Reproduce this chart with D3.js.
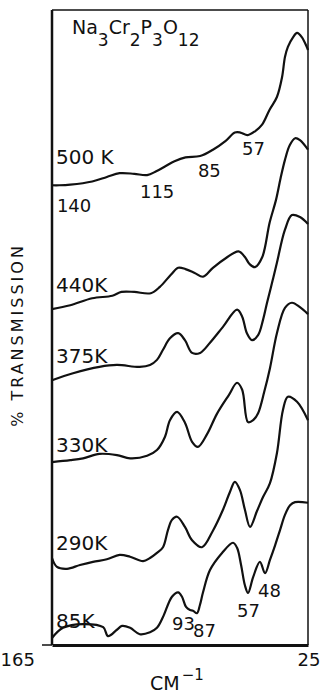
<!DOCTYPE html>
<meta charset="utf-8">
<head>
<style>
  body { margin: 0; background: #fff; }
  svg text { font-family: "DejaVu Sans", sans-serif; fill: #111; }
</style>
</head>
<body>
<script src="https://cdn.jsdelivr.net/npm/d3@7"></script>
<script>
// spectra: [wavenumber cm-1, transmission (arbitrary, stacked)]
var t500 = [[165,72.4],[161,72.4],[155,72.5],[143,73.0],[135,73.7],[128,74.3],[120,74.2],[113,74.0],[108,74.6],[103,75.4],
  [98,76.2],[92,76.8],[84,77.0],[77,78.0],[70,79.4],[65,80.7],[62,80.7],[58,80.3],[54,80.9],[50,82.0],[46,84.3],[42,86.3],
  [39.2,89.4],[37.6,92.6],[36,94.2],[33.2,95.7],[31,96.4],[28.3,95.7],[25,93.7]];
var t440 = [[165,52.9],[155,53.5],[143,54.6],[132,55.0],[127,55.6],[120,55.6],[111,55.4],[106,56.4],[100,58.3],[96,59.4],
  [92,59.2],[87,58.6],[82.4,58.0],[77,59.4],[70,60.9],[63,62.0],[59.5,61.1],[57,60.0],[54,59.5],[50,61.1],[46,66.5],
  [42.5,70.1],[40,73.5],[37.6,76.4],[35,78.7],[32,79.8],[29.4,79.5],[25,78.0]];
var t375 = [[165,41.7],[153.5,42.8],[139,43.8],[129.5,44.1],[117,43.8],[111.4,44.1],[107.6,44.9],[104.3,46.5],[100.5,48.3],
  [96,49.1],[92.3,48.0],[88.4,46.0],[84,46.0],[78.6,47.6],[71.5,50.1],[63.8,52.8],[61,51.7],[58.4,49.1],[55.6,48.0],
  [52.3,48.8],[49.6,51.2],[47.4,53.9],[44.7,57.0],[42,60.2],[37.6,65.4],[33.8,67.7],[29.4,67.4],[25,66.3]];
var t330 = [[165,28.8],[155,29.1],[148,29.4],[139,30.1],[129.5,29.9],[122.3,29.4],[113,29.8],[107.6,30.7],[103.2,32.8],
  [100.5,35.4],[96.6,36.7],[92.3,35.0],[88.4,32.0],[85.2,31.2],[80.2,33.2],[74.8,36.4],[68.2,39.4],[63.8,41.3],[61,40.2],
  [57.8,35.1],[55,35.4],[52.3,36.5],[49,39.8],[45.8,43.6],[42,49.1],[37.6,53.1],[33.8,53.9],[29.4,53.2],[25,52.1]];
var t290 = [[165,13.7],[162.3,12.3],[156.8,12.0],[149.7,12.6],[142.6,13.1],[135,13.5],[128,14.2],[122.3,13.9],[115.2,13.2],
  [111.4,13.7],[107.6,14.5],[104.3,15.4],[101.6,18.1],[99.4,19.7],[96.6,20.2],[92.3,18.6],[88.4,16.5],[83,15.4],[77,18.0],
  [71.5,21.3],[67.7,24.1],[65,25.7],[62.2,24.4],[59.5,21.3],[56.7,18.6],[52.9,21.1],[49.6,23.3],[45.8,25.5],[42,30.2],
  [38.7,37.0],[36,39.1],[31,38.3],[25,35.4]];
var t85 = [[165,1.1],[159,2.7],[148,3.3],[137,2.8],[134.4,1.4],[129.5,2.4],[126.7,3.0],[122.3,2.7],[117,1.7],[111.4,2.0],
  [107.6,2.7],[104.3,4.4],[99.4,7.6],[96,8.3],[93.9,7.6],[91.7,6.0],[89.5,5.5],[87.9,5.4],[85.7,5.0],[84.1,6.3],[82.4,8.3],
  [78.6,11.8],[72,14.5],[66,16.1],[63.8,15.3],[61.6,12.6],[59.5,9.4],[57.8,8.2],[55,10.7],[51.3,13.1],[48.5,11.3],
  [45.8,13.4],[43,15.7],[40.3,18.1],[37.6,20.5],[34.8,22.0],[32.1,22.5],[25,22.4]];

var spectra = [t500, t440, t375, t330, t290, t85];
var tempLabels = [["500 K",75.7],["440K",55.6],["375K",44.4],["330K",30.4],["290K",15.0],["85K",2.7]];
// band labels: text, wavenumber, transmission
var bandLabels = [["140",162.3,68.2],["115",116.9,70.4],["85",85.2,73.7],["57",61.1,77.2],
  ["93",99.4,2.4],["87",87.9,1.3],["57",63.8,4.4],["48",52.3,7.6]];
var xTicks = [165, 25];

var W = 322, H = 693;
var mLeft = 52, mRight = 308, mTop = 10, mBottom = 645;

var svg = d3.select("body").append("svg")
    .attr("width", W)
    .attr("height", H);

var x = d3.scaleLinear().domain([165, 25]).range([mLeft, mRight]);
var y = d3.scaleLinear().domain([0, 100]).range([mBottom, mTop]);

// frame
svg.append("line").attr("x1", mLeft).attr("x2", mRight).attr("y1", mTop).attr("y2", mTop)
    .attr("stroke", "#111").attr("stroke-width", 1.5);
svg.append("line").attr("x1", mRight).attr("x2", mRight).attr("y1", mTop).attr("y2", mBottom)
    .attr("stroke", "#111").attr("stroke-width", 1.5);
svg.append("line").attr("x1", mLeft).attr("x2", mLeft).attr("y1", mTop).attr("y2", mBottom)
    .attr("stroke", "#111").attr("stroke-width", 2.5);

// bottom axis
var xAxis = d3.axisBottom(x).tickValues(xTicks).tickSize(0).tickPadding(8);
var gx = svg.append("g")
    .attr("transform", "translate(0," + mBottom + ")")
    .call(xAxis);
gx.select(".domain").attr("stroke", "#111").attr("stroke-width", 3);
gx.selectAll("text")
    .style("font-family", "DejaVu Sans, sans-serif")
    .style("font-size", "18px")
    .attr("fill", "#111")
    .attr("text-anchor", function(d) { return d == 165 ? "start" : "end"; })
    .attr("dx", function(d) { return d == 165 ? "-52px" : "12px"; });
svg.append("line").attr("x1", mLeft - 10).attr("x2", mLeft).attr("y1", mBottom).attr("y2", mBottom)
    .attr("stroke", "#111").attr("stroke-width", 1.5);

// axis titles
var xt = svg.append("text")
    .attr("x", 150).attr("y", 690)
    .style("font-size", "19px");
xt.append("tspan").text("CM");
xt.append("tspan").attr("dy", -10).attr("dx", 2).style("font-size", "15px").text("\u22121");

svg.append("text")
    .attr("transform", "translate(23,335) rotate(-90)")
    .attr("text-anchor", "middle")
    .style("font-size", "16px")
    .style("letter-spacing", "3px")
    .text("%  TRANSMISSION");

// compound
var ct = svg.append("text").attr("x", 72).attr("y", 34).style("font-size", "19px");
[["Na",0],["3",1],["Cr",0],["2",1],["P",0],["3",1],["O",0],["12",1]].forEach(function(p, i, arr) {
  var prev = i > 0 ? arr[i - 1][1] : 0;
  ct.append("tspan")
    .attr("dy", p[1] == prev ? 0 : (p[1] ? 12 : -12))
    .style("font-size", p[1] ? "17px" : "19px")
    .text(p[0]);
});

// spectra
var line = d3.line()
    .x(function(d) { return x(d[0]); })
    .y(function(d) { return y(d[1]); })
    .curve(d3.curveCatmullRom.alpha(0.5));

svg.selectAll(".spec")
    .data(spectra)
    .enter()
    .append("path")
    .attr("class", "spec")
    .attr("d", line)
    .attr("fill", "none")
    .attr("stroke", "#111")
    .attr("stroke-width", 2.2)
    .attr("stroke-linejoin", "round");

svg.selectAll(".temp")
    .data(tempLabels)
    .enter()
    .append("text")
    .attr("class", "temp")
    .attr("x", mLeft + 4)
    .attr("y", function(d) { return y(d[1]); })
    .style("font-size", "20px")
    .text(function(d) { return d[0]; });

svg.selectAll(".band")
    .data(bandLabels)
    .enter()
    .append("text")
    .attr("class", "band")
    .attr("x", function(d) { return x(d[1]); })
    .attr("y", function(d) { return y(d[2]); })
    .style("font-size", "18px")
    .text(function(d) { return d[0]; });
</script>
</body>
